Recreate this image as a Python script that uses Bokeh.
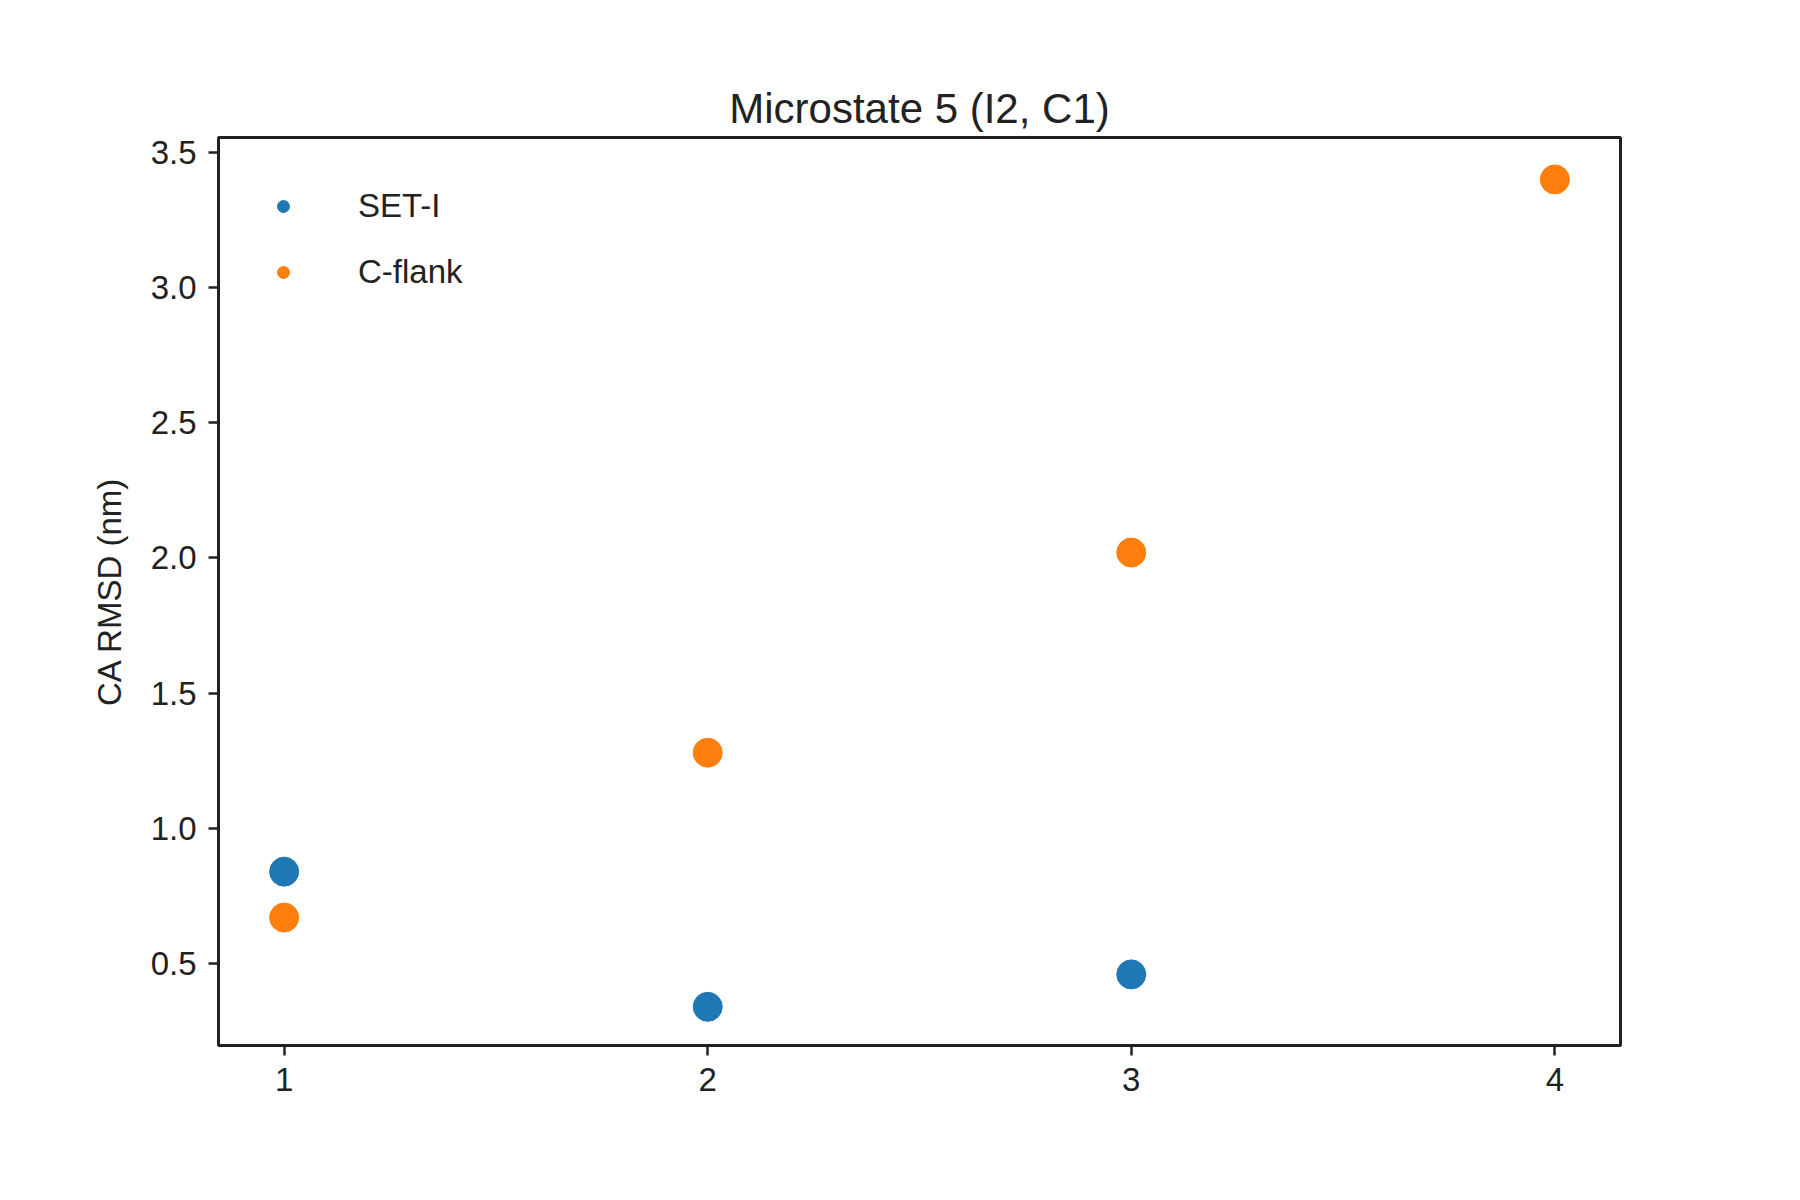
from bokeh.plotting import figure
from bokeh.models import ColumnDataSource, Range1d, FixedTicker, NumeralTickFormatter
from bokeh.embed import file_html
from bokeh.resources import INLINE

set_x = [1, 2, 3]
set_y = [0.84, 0.34, 0.46]
cflank_x = [1, 2, 3, 4]
cflank_y = [0.67, 1.28, 2.02, 3.40]

FONT = "Liberation Sans"
INK = "#222222"

p = figure(
    width=1784, height=1184,
    x_range=Range1d(0.845, 4.155), y_range=Range1d(0.197, 3.555),
    output_backend="svg", toolbar_location=None,
    title="Microstate 5 (I2, C1)",
    min_border_left=218, min_border_right=164,
    min_border_top=137, min_border_bottom=139,
)
p.grid.visible = False
p.outline_line_color = INK
p.outline_line_width = 3

p.title.align = "center"
p.title.text_font = FONT
p.title.text_font_size = "42px"
p.title.text_font_style = "normal"
p.title.text_color = INK
p.title.standoff = 12

for ax in (p.xaxis, p.yaxis):
    ax.axis_line_color = None
    ax.major_tick_line_color = INK
    ax.major_tick_line_width = 2.5
    ax.major_tick_out = 10
    ax.major_tick_in = 0
    ax.minor_tick_line_color = None
    ax.major_label_text_font = FONT
    ax.major_label_text_font_size = "33px"
    ax.major_label_text_color = INK
    ax.major_label_standoff = 12

p.xaxis.ticker = FixedTicker(ticks=[1, 2, 3, 4])
p.yaxis.ticker = FixedTicker(ticks=[0.5, 1.0, 1.5, 2.0, 2.5, 3.0, 3.5])
p.yaxis.formatter = NumeralTickFormatter(format="0.0")
p.yaxis.axis_label = "CA RMSD (nm)"
p.yaxis.axis_label_text_font = FONT
p.yaxis.axis_label_text_font_size = "33px"
p.yaxis.axis_label_text_font_style = "normal"
p.yaxis.axis_label_text_color = INK
p.yaxis.axis_label_standoff = 20

s1 = ColumnDataSource(data=dict(x=set_x, y=set_y))
s2 = ColumnDataSource(data=dict(x=cflank_x, y=cflank_y))
p.scatter("x", "y", source=s1, size=29, color="#1f77b4", legend_label="SET-I")
p.scatter("x", "y", source=s2, size=29, color="#ff7f0e", legend_label="C-flank")

p.legend.location = "top_left"
p.legend.border_line_color = None
p.legend.background_fill_alpha = 0
p.legend.label_text_font = FONT
p.legend.label_text_font_size = "33px"
p.legend.label_text_color = INK
p.legend.glyph_width = 30
p.legend.glyph_height = 30
p.legend.label_standoff = 60
p.legend.spacing = 28
p.legend.margin = 50
p.legend.padding = 14

open("out.html", "w").write(file_html(p, INLINE))
